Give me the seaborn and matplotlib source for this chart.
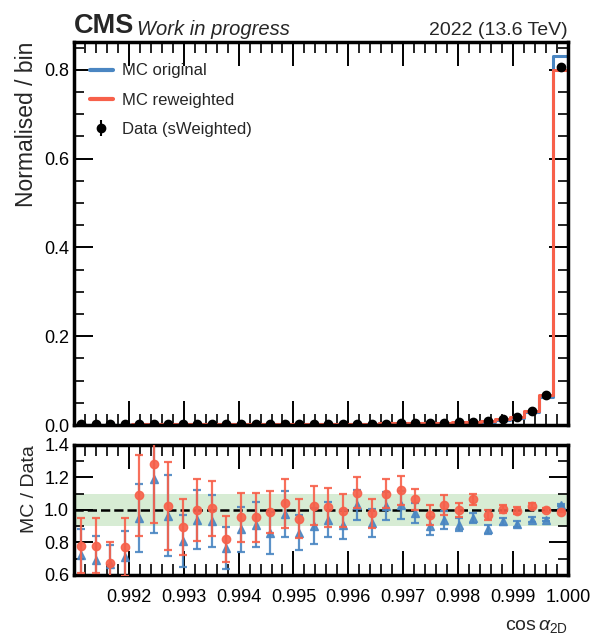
import numpy as np
import pandas as pd
import matplotlib
matplotlib.use("Agg")
import matplotlib.pyplot as plt
from matplotlib.ticker import MultipleLocator, FixedLocator, FormatStrFormatter
from matplotlib.lines import Line2D
import seaborn as sns

sns.set_theme(style="ticks")
plt.rcParams['font.family'] = ['Liberation Sans', 'DejaVu Sans']
plt.rcParams['mathtext.fontset'] = 'custom'
plt.rcParams['mathtext.rm'] = 'Liberation Sans'
plt.rcParams['mathtext.it'] = 'Liberation Sans:italic'

# binning of cos(alpha_2D)
bin_lo, bin_hi, n_bins = 0.991, 1.0, 34
x_ticks = [0.992, 0.993, 0.994, 0.995, 0.996, 0.997, 0.998, 0.999, 1.000]

# data (sWeighted), normalised per bin
data_vals = [0.0013, 0.0013, 0.0014, 0.0014, 0.0015, 0.0015, 0.0016, 0.0016, 0.0017, 0.0018,
             0.0019, 0.0019, 0.0020, 0.0021, 0.0022, 0.0023, 0.0024, 0.0026, 0.0027, 0.0029,
             0.0031, 0.0034, 0.0037, 0.0041, 0.0046, 0.0052, 0.0060, 0.0070, 0.0090, 0.0130,
             0.0180, 0.0310, 0.0670, 0.8070]

# MC / Data ratios
ratio_orig = [0.72, 0.69, 0.665, 0.71, 0.95, 1.19, 0.965, 0.81, 0.94, 0.93,
              0.765, 0.88, 0.91, 0.86, 0.975, 0.86, 0.90, 0.94, 0.91, 1.03,
              0.92, 1.025, 1.03, 0.98, 0.90, 0.94, 0.91, 0.95, 0.88, 0.93,
              0.915, 0.94, 0.94, 1.03]
ratio_rew = [0.78, 0.78, 0.67, 0.77, 1.09, 1.28, 1.025, 0.895, 1.00, 1.01,
             0.82, 0.955, 0.955, 0.985, 1.04, 0.945, 1.025, 1.015, 0.995, 1.105,
             0.98, 1.10, 1.12, 1.065, 0.97, 1.03, 1.00, 1.065, 0.97, 1.005,
             0.995, 1.025, 1.00, 0.99]
err_orig = [0.16, 0.15, 0.12, 0.16, 0.21, 0.33, 0.25, 0.16, 0.18, 0.16,
            0.13, 0.14, 0.14, 0.13, 0.14, 0.11, 0.11, 0.11, 0.09, 0.09,
            0.085, 0.085, 0.085, 0.06, 0.055, 0.055, 0.04, 0.033, 0.028, 0.023,
            0.018, 0.014, 0.011, 0.005]
err_rew = [0.17, 0.17, 0.13, 0.18, 0.25, 0.36, 0.27, 0.17, 0.19, 0.17,
           0.14, 0.15, 0.15, 0.13, 0.15, 0.12, 0.12, 0.12, 0.10, 0.095,
           0.09, 0.09, 0.09, 0.065, 0.06, 0.06, 0.045, 0.035, 0.03, 0.025,
           0.02, 0.015, 0.012, 0.005]

blue = "#4a86c2"
red = "#f7604a"

edges = np.linspace(bin_lo, bin_hi, n_bins + 1)
centres = 0.5 * (edges[:-1] + edges[1:])
data = np.array(data_vals)
hist = pd.DataFrame({
    "x": centres,
    "orig": data * np.array(ratio_orig),
    "rew": data * np.array(ratio_rew),
})

fig = plt.figure(figsize=(5.91, 6.43), dpi=100)
ax = fig.add_axes([0.125, 0.339, 0.836, 0.596])
rax = fig.add_axes([0.125, 0.106, 0.836, 0.202], sharex=ax)

# top panel
sns.histplot(data=hist, x="x", weights="orig", bins=list(edges), element="step",
             fill=False, color=blue, linewidth=2.2, ax=ax)
sns.histplot(data=hist, x="x", weights="rew", bins=list(edges), element="step",
             fill=False, color=red, linewidth=2.2, ax=ax)
ax.errorbar(centres, data, yerr=0.003 * np.sqrt(data), fmt="o", color="black",
            markersize=6, capsize=2, elinewidth=1.2, zorder=5)

ax.set_xlim(bin_lo, bin_hi)
ax.set_ylim(0, 0.863)
ax.set_ylabel("Normalised / bin", loc="top", fontsize=16.5)
ax.set_xlabel("")
ax.yaxis.set_major_locator(MultipleLocator(0.2))
ax.yaxis.set_minor_locator(MultipleLocator(0.05))
ax.yaxis.set_major_formatter(FormatStrFormatter("%.1f"))
ax.tick_params(axis="x", labelbottom=False)

handles = [Line2D([], [], color=blue, lw=3),
           Line2D([], [], color=red, lw=3),
           ax.errorbar([], [], yerr=[], fmt="o", color="black", markersize=6, capsize=2)]
ax.legend(handles, ["MC original", "MC reweighted", "Data (sWeighted)"],
          loc="upper left", frameon=False, fontsize=12, handlelength=1.4,
          labelspacing=0.85, borderaxespad=0.9, handletextpad=0.55,
          bbox_to_anchor=(-0.012, 1.0))

ax.text(0.0, 1.008, "CMS", transform=ax.transAxes, fontsize=19.5, fontweight="bold",
        va="bottom", ha="left")
ax.text(0.128, 1.008, "Work in progress", transform=ax.transAxes, fontsize=14.5,
        style="italic", va="bottom", ha="left")
ax.text(1.0, 1.008, "2022 (13.6 TeV)", transform=ax.transAxes, fontsize=14,
        va="bottom", ha="right")

# ratio panel
rax.axhspan(0.9, 1.1, color="#a8d5a0", alpha=0.45, lw=0, zorder=0)
rax.axhline(1.0, color="black", ls="--", lw=1.8, zorder=1)
rax.errorbar(centres, ratio_orig, yerr=err_orig, fmt="^", color=blue, markersize=6,
             ecolor=blue, elinewidth=1.6, capsize=3, capthick=1.6, alpha=0.9, zorder=2)
rax.errorbar(centres, ratio_rew, yerr=err_rew, fmt="o", color=red, markersize=6,
             ecolor=red, elinewidth=1.6, capsize=3, capthick=1.6, alpha=0.9, zorder=3)
rax.set_ylim(0.6, 1.4)
rax.set_xlim(bin_lo, bin_hi)
rax.set_ylabel("MC / Data", loc="top", fontsize=14)
rax.set_xlabel(r"cos$\,\alpha_{\rm 2D}$", loc="right", fontsize=14, labelpad=9)
rax.yaxis.set_major_locator(MultipleLocator(0.2))
rax.yaxis.set_minor_locator(MultipleLocator(0.1))
rax.yaxis.set_major_formatter(FormatStrFormatter("%.1f"))
rax.xaxis.set_major_locator(FixedLocator(x_ticks))
rax.xaxis.set_minor_locator(MultipleLocator(0.0002))
rax.xaxis.set_major_formatter(FormatStrFormatter("%.3f"))

for a in (ax, rax):
    for s in a.spines.values():
        s.set_linewidth(2.5)
        s.set_color("black")
    a.tick_params(which="both", direction="in", top=True, right=True, labelsize=13,
                  colors="black")
    a.tick_params(axis="x", which="major", length=17, width=1.4, pad=10)
    a.tick_params(axis="x", which="minor", length=8, width=1.2)
    a.tick_params(axis="y", which="major", length=14, width=1.4)
    a.tick_params(axis="y", which="minor", length=7, width=1.2)

fig.savefig("out.png", dpi=100)
